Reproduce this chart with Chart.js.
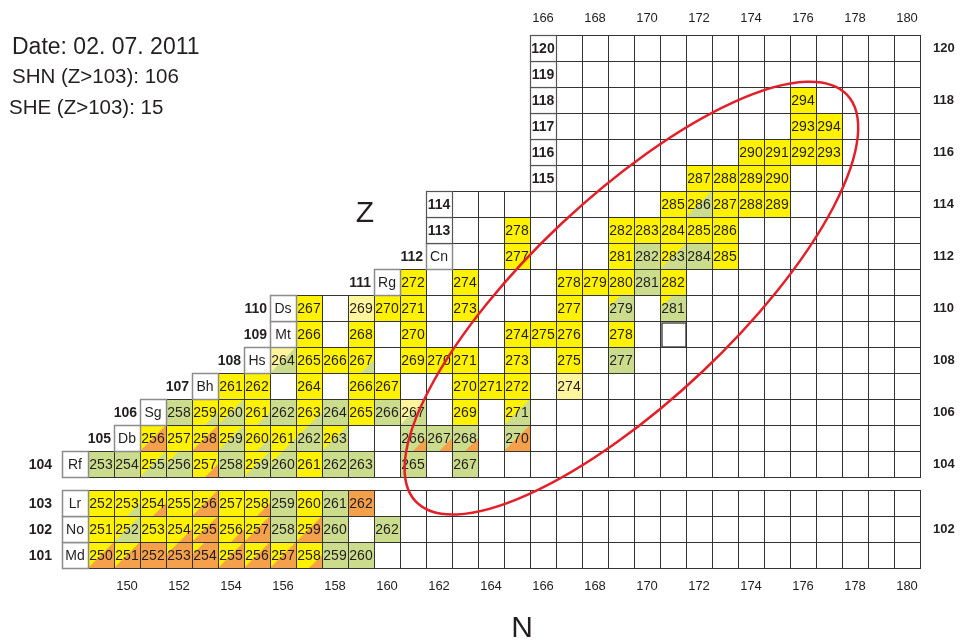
<!DOCTYPE html>
<html>
<head>
<meta charset="utf-8">
<script src="https://cdn.jsdelivr.net/npm/chart.js@4.4.1/dist/chart.umd.min.js"></script>
<style>
  html, body { margin: 0; padding: 0; background: #fff; }
  canvas { display: block; }
</style>
</head>
<body>
<canvas id="chart" width="960" height="641"></canvas>
<script>
// Rows of the nuclide chart, bottom to top (proton number Z).
const zRows = [101, 102, 103, 104, 105, 106, 107, 108, 109, 110, 111, 112, 113, 114, 115, 116, 117, 118, 119, 120];
// N of the label cell that opens each row.
const labelN = [148, 148, 148, 148, 150, 151, 153, 155, 156, 156, 160, 162, 162, 162, 166, 166, 166, 166, 166, 166];
const symbols = ['Md', 'No', 'Lr', 'Rf', 'Db', 'Sg', 'Bh', 'Hs', 'Mt', 'Ds', 'Rg', 'Cn', '', '', '', '', '', '', '', ''];
// N of the first entry of each decay list below.
const firstN = [149, 149, 149, 149, 151, 152, 154, 156, 157, 157, 161, 163, 163, 171, 172, 174, 176, 176, null, null];
// Decay colour per known isotope: Y alpha, G fission, O EC/beta+, P alpha (tentative), '-' unknown.
// 'A>B' puts B in the lower right corner, 'A<B' in the upper left; lower case = small corner.
const decay = [
    ['Y>O', 'Y>O', 'O', 'O<y', 'O<y', 'Y>O', 'Y>O', 'Y>O', 'Y>o', 'G', 'G'],
    ['Y', 'Y>G', 'Y', 'Y>o', 'Y>O', 'Y>o', 'Y>O', 'G', 'Y>O', 'G', '-', 'G'],
    ['Y', 'Y>g', 'Y>o', 'Y', 'Y>O', 'Y', 'Y>o', 'G', 'Y', 'G', 'O'],
    ['G', 'G', 'Y>G', 'G<y', 'Y>o', 'G', 'Y>G', 'G<y', 'Y', 'G', 'G', '-', 'G', '-', 'G'],
    ['Y>O', 'Y', 'Y>O', 'Y>G', 'Y>g', 'Y>g', 'G<y', 'Y>G', '-', '-', 'G>o', 'G>o', 'G>o', '-', 'G>O'],
    ['G', 'Y>g', 'Y>G', 'Y>g', 'G', 'Y>g', 'G', 'Y', 'G', 'G<P', '-', 'Y', '-', 'Y>G'],
    ['Y', 'Y', '-', 'Y', '-', 'Y', 'Y', '-', '-', 'Y', 'Y', 'Y', '-', 'P'],
    ['P>G', 'Y', 'Y', 'Y>g', '-', 'Y', 'Y', 'Y', '-', 'Y', '-', 'Y', '-', 'G'],
    ['Y', '-', 'Y', '-', 'Y', '-', '-', '-', 'Y', 'Y', 'Y', '-', 'Y'],
    ['Y', '-', 'P', 'Y', 'Y', '-', 'Y', '-', '-', '-', 'Y', '-', 'G<y', '-', 'G<y'],
    ['Y', '-', 'Y', '-', '-', '-', 'Y', 'Y', 'Y', 'G', 'Y'],
    ['-', '-', 'Y', '-', '-', '-', 'Y', 'G', 'Y>G', 'G', 'Y'],
    ['-', '-', 'Y', '-', '-', '-', 'Y', 'Y', 'Y', 'Y', 'Y'],
    ['Y', 'Y>G', 'Y', 'Y', 'Y'],
    ['Y', 'Y', 'Y', 'Y'],
    ['Y', 'Y', 'Y', 'Y'],
    ['Y', 'Y'],
    ['Y'],
    [],
    []
];
const lastN = 180;
const nTicksBottom = [150, 152, 154, 156, 158, 160, 162, 164, 166, 168, 170, 172, 174, 176, 178, 180];
const nTicksTop = [166, 168, 170, 172, 174, 176, 178, 180];
const zTicksRight = [102, 104, 106, 108, 110, 112, 114, 116, 118, 120];
const infoLines = ['Date: 02. 07. 2011', 'SHN (Z>103): 106', 'SHE (Z>103): 15'];

// Red ellipse round the island of stability (data units, degrees).
const ellipse = {n: 169.4, z: 110.38, a: 11.4, b: 3.93, angle: -43.3};
const boxedCell = {n: 171, z: 109};

const fills = {Y: '#fff200', G: '#cbdc8c', O: '#f5a04b', P: '#fff59c'};
const ink = '#231f20';

// rows up to 103 sit half a row lower to leave the gap
const rowY = (z) => (z <= 103 ? z - 0.5 : z);

const cells = [];
zRows.forEach((z, i) => {
    for (let n = labelN[i] + 1; n <= lastN; n++) {
        const k = firstN[i] === null ? -1 : n - firstN[i];
        const code = k >= 0 && k < decay[i].length ? decay[i][k] : '-';
        cells.push({x: n, y: rowY(z), z: z, a: z + n, code: code});
    }
});
const labelCells = zRows.map((z, i) => ({x: labelN[i], y: rowY(z), z: z, sym: symbols[i]}));

Chart.defaults.font.family = '"Liberation Sans", Arial, sans-serif';
Chart.defaults.color = ink;

const paintCell = (ctx, l, t, w, h, code) => {
    if (code === '-') {
        return;
    }
    ctx.fillStyle = fills[code[0]];
    ctx.fillRect(l, t, w, h);
    if (code.length === 3) {
        const c = code[2];
        const f = c === c.toUpperCase() ? 1 : 0.5;
        ctx.fillStyle = fills[c.toUpperCase()];
        ctx.beginPath();
        if (code[1] === '>') {
            ctx.moveTo(l + w - f * w, t + h);
            ctx.lineTo(l + w, t + h);
            ctx.lineTo(l + w, t + h - f * h);
        } else {
            ctx.moveTo(l, t);
            ctx.lineTo(l + f * w, t);
            ctx.lineTo(l, t + f * h);
        }
        ctx.closePath();
        ctx.fill();
    }
};

const nuclidePlugin = {
    id: 'nuclides',
    beforeDatasetsDraw(chart) {
        const {ctx, scales: {x, y}} = chart;
        const w = x.getPixelForValue(1) - x.getPixelForValue(0);
        const h = y.getPixelForValue(0) - y.getPixelForValue(1);
        const box = (p) => [Math.round(x.getPixelForValue(p.x) - w / 2), Math.round(y.getPixelForValue(p.y) - h / 2)];
        ctx.save();
        for (const p of chart.data.datasets[0].data) {
            const [l, t] = box(p);
            paintCell(ctx, l, t, w, h, p.code);
        }
        ctx.strokeStyle = '#333';
        ctx.lineWidth = 1;
        for (const p of chart.data.datasets[0].data) {
            const [l, t] = box(p);
            ctx.strokeRect(l + 0.5, t + 0.5, w, h);
        }
        ctx.textAlign = 'center';
        ctx.textBaseline = 'middle';
        ctx.fillStyle = ink;
        ctx.font = '14px "Liberation Sans", Arial, sans-serif';
        for (const p of chart.data.datasets[0].data) {
            if (p.code !== '-') {
                const [l, t] = box(p);
                ctx.fillText(String(p.a), l + w / 2, t + h / 2 + 1);
            }
        }
        // boxed empty cell
        const [bl, bt] = box({x: boxedCell.n, y: rowY(boxedCell.z)});
        ctx.lineWidth = 1.3;
        ctx.strokeRect(bl + 2, bt + 2, w - 2, h - 2);
        // element label cells
        for (const p of chart.data.datasets[1].data) {
            const [l, t] = box(p);
            ctx.fillStyle = '#fff';
            ctx.fillRect(l, t, w, h);
            ctx.fillStyle = ink;
            if (p.sym) {
                ctx.strokeStyle = '#8c8c8c';
                ctx.lineWidth = 1.5;
                ctx.strokeRect(l + 0.5, t + 0.5, w, h);
                ctx.font = '14px "Liberation Sans", Arial, sans-serif';
                ctx.textAlign = 'center';
                ctx.fillText(p.sym, l + w / 2, t + h / 2 + 1);
                ctx.font = 'bold 14px "Liberation Sans", Arial, sans-serif';
                ctx.textAlign = 'right';
                ctx.fillText(String(p.z), p.z <= 104 ? l - 10 : l - 3, t + h / 2 + 1);
            } else {
                ctx.strokeStyle = '#555';
                ctx.lineWidth = 1.2;
                ctx.strokeRect(l + 0.5, t + 0.5, w, h);
                ctx.font = 'bold 14px "Liberation Sans", Arial, sans-serif';
                ctx.textAlign = 'center';
                ctx.fillText(String(p.z), l + w / 2, t + h / 2 + 1);
            }
        }
        ctx.restore();
    },
    afterDatasetsDraw(chart) {
        const {ctx, scales: {x, y}} = chart;
        const ux = x.getPixelForValue(1) - x.getPixelForValue(0);
        ctx.save();
        ctx.strokeStyle = '#e3202a';
        ctx.lineWidth = 2.5;
        ctx.beginPath();
        ctx.ellipse(x.getPixelForValue(ellipse.n), y.getPixelForValue(ellipse.z),
            ellipse.a * ux, ellipse.b * ux, ellipse.angle * Math.PI / 180, 0, Math.PI * 2);
        ctx.stroke();

        ctx.fillStyle = ink;
        ctx.textAlign = 'left';
        ctx.textBaseline = 'alphabetic';
        ctx.font = '23px "Liberation Sans", Arial, sans-serif';
        ctx.fillText(infoLines[0], 12, 54);
        ctx.font = '20.5px "Liberation Sans", Arial, sans-serif';
        ctx.fillText(infoLines[1], 12, 83);
        ctx.fillText(infoLines[2], 9, 114);
        ctx.font = '30px "Liberation Sans", Arial, sans-serif';
        ctx.textAlign = 'center';
        ctx.fillText('Z', 365, 222);
        ctx.fillText('N', 522, 637);
        ctx.restore();
    }
};

const setTicks = (values) => (scale) => {
    scale.ticks = values.map((v) => ({value: v}));
};

new Chart(document.getElementById('chart'), {
    type: 'scatter',
    data: {
        datasets: [
            {data: cells, pointRadius: 0, pointHoverRadius: 0},
            {data: labelCells, pointRadius: 0, pointHoverRadius: 0}
        ]
    },
    options: {
        responsive: false,
        animation: false,
        events: [],
        layout: {padding: {left: 62, right: 0, top: 0, bottom: 0}},
        plugins: {legend: {display: false}, tooltip: {enabled: false}},
        scales: {
            x: {
                type: 'linear',
                position: 'bottom',
                min: 147.5,
                max: 180.5,
                grid: {display: false, drawTicks: false},
                border: {display: false},
                afterBuildTicks: setTicks(nTicksBottom),
                afterFit: (s) => { s.height = 73; },
                ticks: {padding: 11, autoSkip: false, maxRotation: 0, font: {size: 13}}
            },
            x2: {
                type: 'linear',
                position: 'top',
                min: 147.5,
                max: 180.5,
                grid: {display: false, drawTicks: false},
                border: {display: false},
                afterBuildTicks: setTicks(nTicksTop),
                afterFit: (s) => { s.height = 35; },
                ticks: {padding: 9, autoSkip: false, maxRotation: 0, font: {size: 13}}
            },
            y: {
                type: 'linear',
                position: 'right',
                min: 100,
                max: 120.5,
                grid: {display: false, drawTicks: false},
                border: {display: false},
                afterBuildTicks: setTicks(zTicksRight.map(rowY)),
                afterFit: (s) => { s.width = 40; },
                ticks: {
                    padding: 13,
                    autoSkip: false,
                    font: {size: 13, weight: 'bold'},
                    callback: (v) => (v < 104 ? v + 0.5 : v)
                }
            }
        }
    },
    plugins: [nuclidePlugin]
});
</script>
</body>
</html>
